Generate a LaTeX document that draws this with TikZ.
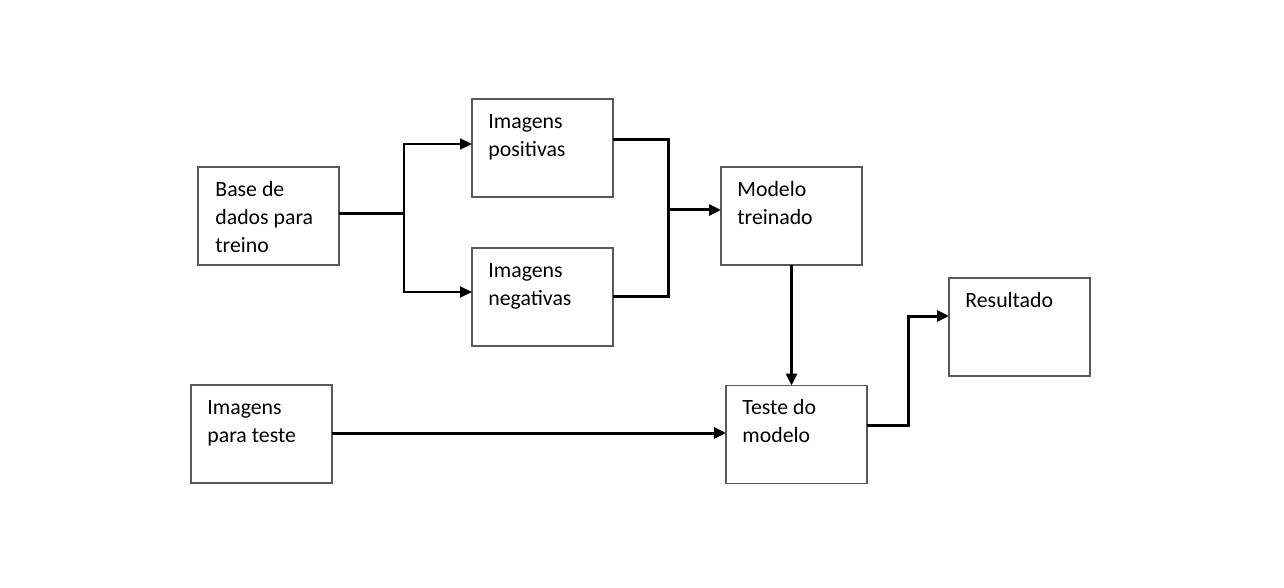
\documentclass[tikz,border=0pt]{standalone}
\usepackage{fontspec}
\setmainfont{Carlito}
\usetikzlibrary{arrows.meta}
\newcommand\boxtxt[1]{\parbox[t]{65pt}{\raggedright #1}}
\begin{document}
\begin{tikzpicture}[x=0.5pt,y=-0.5pt,
  box/.style={draw=black!65,line width=0.6pt,minimum width=70.5pt,minimum height=49pt,inner sep=0pt,outer sep=0pt},
  lbl/.style={anchor=base west,inner sep=0pt,font=\fontsize{10.9}{14}\selectfont},
  thickl/.style={line width=1.5pt},
  thinl/.style={line width=1pt},
  arr/.style={-{Triangle[length=6pt,width=5.5pt]}}]
\useasboundingbox (0,0) rectangle (1284,588);
\node[box] (base) at (268.5,216) {};
\node[box] (pos) at (542.5,148) {};
\node[box] (neg) at (542.5,297) {};
\node[box] (mod) at (791.5,216) {};
\node[box] (test) at (796.5,434.5) {};
\node[box] (res) at (1019.5,327) {};
\node[box] (imgt) at (261.5,434) {};
\node[lbl] (tbase) at ([xshift=8.5pt,yshift=-14.7pt]base.north west) {\boxtxt{Base de\\dados para\\treino}};
\node[lbl] (tpos) at ([xshift=8pt,yshift=-14.7pt]pos.north west) {\boxtxt{Imagens\\positivas}};
\node[lbl] (tneg) at ([xshift=8pt,yshift=-14.7pt]neg.north west) {\boxtxt{Imagens\\negativas}};
\node[lbl] (tmod) at ([xshift=8pt,yshift=-14.7pt]mod.north west) {\boxtxt{Modelo\\treinado}};
\node[lbl] (ttest) at ([xshift=8pt,yshift=-14.7pt]test.north west) {\boxtxt{Teste do\\modelo}};
\node[lbl] (tres) at ([xshift=8pt,yshift=-14.7pt]res.north west) {\boxtxt{Resultado}};
\node[lbl] (timgt) at ([xshift=8pt,yshift=-14.7pt]imgt.north west) {\boxtxt{Imagens\\para teste}};
\coordinate (jx) at (404,0);
\coordinate (jy) at (668,0);
\coordinate (jz) at (908,0);
\draw[thickl] ([yshift=1pt]base.east) -- ([yshift=1pt]jx |- base.east);
\draw[thinl,arr] ([yshift=1pt]jx |- base.east) |- ([yshift=2pt]pos.west);
\draw[thinl,arr] ([yshift=1pt]jx |- base.east) |- ([yshift=2.5pt]neg.west);
\draw[thickl] ([yshift=4pt]pos.east) -| ([yshift=0.5pt]jy |- neg.east) -- ([yshift=0.5pt]neg.east);
\draw[thickl,arr] ([yshift=3pt]jy |- mod.west) -- ([yshift=3pt]mod.west);
\draw[thickl,arr] (mod.south) -- (mod.south |- test.north);
\draw[thickl,arr] ([yshift=0.5pt]imgt.east) -- ([yshift=0.5pt]imgt.east -| test.west);
\draw[thickl,arr] ([yshift=4.75pt]test.east) -| ([yshift=5.5pt]jz |- res.west) -- ([yshift=5.5pt]res.west);
\end{tikzpicture}
\end{document}
